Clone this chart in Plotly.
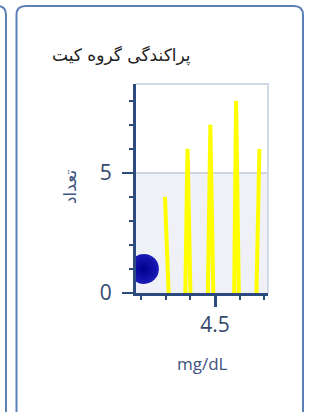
import plotly.graph_objects as go

# ---- data ----
kit_x = [4.296, 4.311, None, 4.379, 4.388, 4.400, None, 4.471, 4.481, 4.493, None, 4.578, 4.586, 4.597, None, 4.669, 4.681]
kit_counts = [4, 0, None, 0, 6, 0, None, 0, 7, 0, None, 0, 8, 0, None, 0, 6]
point_x = [4.21]
point_y = [1]
y_ticks = [0, 5]
x_ticks = [4.5]
x_tick_text = ["4.5"]
title_text = "پراکندگی گروه کیت"
y_title = "تعداد"
x_title = "mg/dL"

W, H = 311, 412
L, R, T, B = 136, 268, 84, 293


def px(x):
    return (x - L) / (R - L)


def py(y):
    return (B - y) / (B - T)


fig = go.Figure()
fig.add_trace(go.Scatter(
    x=kit_x, y=kit_counts, mode="lines",
    line=dict(color="#ffff00", width=4),
    connectgaps=False, hoverinfo="skip", showlegend=False,
))
fig.add_trace(go.Scatter(
    x=point_x, y=point_y, mode="markers",
    marker=dict(size=30, color="#1a1ab8",
                gradient=dict(type="radial", color="#00008c"),
                line=dict(width=0)),
    cliponaxis=True, showlegend=False,
))


def rounded_path(x0, y0, x1, y1, r):
    pts = [
        ("M", [(x0, y1)]),
        ("L", [(x0, y0 + r)]),
        ("Q", [(x0, y0), (x0 + r, y0)]),
        ("L", [(x1 - r, y0)]),
        ("Q", [(x1, y0), (x1, y0 + r)]),
        ("L", [(x1, y1)]),
    ]
    s = ""
    for cmd, ps in pts:
        s += cmd + " " + " ".join(f"{px(a):.5f},{py(b):.5f}" for a, b in ps) + " "
    return s.strip()


card_color = "#5b80b8"
shapes = [
    dict(type="rect", xref="paper", yref="y", x0=0, x1=1, y0=0, y1=5,
         fillcolor="#eff1f6", line=dict(width=0), layer="below"),
    dict(type="path", xref="paper", yref="paper",
         path="M 0,1 L 1,1 L 1,0",
         line=dict(color="#d3dae7", width=2), layer="below"),
    dict(type="path", xref="paper", yref="paper",
         path=rounded_path(16.5, 6, 303, 440, 9),
         line=dict(color=card_color, width=2)),
    dict(type="path", xref="paper", yref="paper",
         path=rounded_path(-40, 6, 6, 440, 9),
         line=dict(color=card_color, width=2)),
]

axis_col = "#2c4a7e"
label_col = "#35496e"

fig.update_layout(
    width=W, height=H,
    margin=dict(l=L, r=W - R, t=T, b=H - B, pad=0),
    paper_bgcolor="white", plot_bgcolor="white",
    font=dict(family="Open Sans, DejaVu Sans, sans-serif"),
    shapes=shapes,
    xaxis=dict(
        range=[4.178, 4.716], tickmode="array", tickvals=x_ticks, ticktext=x_tick_text,
        showgrid=False, zeroline=False,
        showline=True, linecolor=axis_col, linewidth=3,
        ticks="outside", ticklen=11, tickwidth=3, tickcolor=axis_col,
        tickfont=dict(size=21, color=label_col, family="Open Sans, DejaVu Sans"),
        minor=dict(dtick=0.1, tick0=0, ticks="outside", ticklen=4, tickwidth=2,
                   tickcolor=axis_col, showgrid=False),
        fixedrange=True,
    ),
    yaxis=dict(
        range=[0, 8.7], tickmode="array", tickvals=y_ticks,
        showgrid=True, gridcolor="#cdd5e3", gridwidth=2, zeroline=False,
        showline=True, linecolor=axis_col, linewidth=3,
        ticks="outside", ticklen=11, tickwidth=2, tickcolor=axis_col,
        ticklabelstandoff=6,
        tickfont=dict(size=21, color=label_col, family="Open Sans, DejaVu Sans"),
        minor=dict(dtick=1, tick0=0, ticks="outside", ticklen=4, tickwidth=2,
                   tickcolor=axis_col, showgrid=False),
        fixedrange=True,
    ),
    annotations=[
        dict(text=title_text, xref="paper", yref="paper", x=px(50), y=py(55),
             xanchor="left", yanchor="middle", showarrow=False,
             font=dict(size=17, color="#222222", family="DejaVu Sans, Noto Sans")),
        dict(text=y_title, xref="paper", yref="paper", x=px(70), y=py(187),
             xanchor="center", yanchor="middle", textangle=-90, showarrow=False,
             font=dict(size=17, color="#3d5480", family="DejaVu Sans, Noto Sans")),
        dict(text=x_title, xref="paper", yref="paper", x=px(202.5), y=py(363),
             xanchor="center", yanchor="middle", showarrow=False,
             font=dict(size=17, color="#3d5480", family="Open Sans, DejaVu Sans")),
    ],
)

fig.write_html("out.html", config={"displayModeBar": False},
               post_script="document.body.style.margin='0';")
